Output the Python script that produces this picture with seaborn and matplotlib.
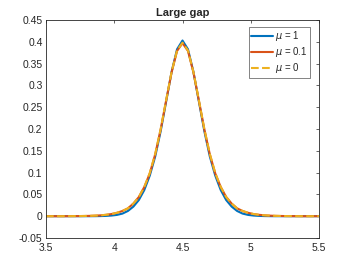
import numpy as np
import pandas as pd
import matplotlib
matplotlib.use("Agg")
import matplotlib.pyplot as plt
import seaborn as sns

# sample grid (step 0.04) and curves
x = np.round(np.arange(3.5, 5.5001, 0.04), 2)

# right half of each curve, offsets 0, 0.04, ..., 1.0 from the peak at 4.5
half_mu1 = [0.403, 0.383, 0.331, 0.263, 0.195, 0.137, 0.093, 0.060, 0.037, 0.022,
            0.012, 0.006, 0.003, 0.0015, 0.0007, 0.0003, 0.0001, 0, 0, 0,
            0, 0, 0, 0, 0, 0]
half_mu01 = [0.397, 0.379, 0.330, 0.265, 0.199, 0.142, 0.098, 0.067, 0.044, 0.029,
             0.018, 0.012, 0.0078, 0.0050, 0.0032, 0.0020, 0.0013, 0.0008, 0.0005, 0.0003,
             0.0002, 0.0001, 0, 0, 0, 0]
half_mu0 = [0.398, 0.380, 0.331, 0.266, 0.200, 0.143, 0.099, 0.067, 0.044, 0.029,
            0.018, 0.012, 0.0078, 0.0050, 0.0032, 0.0020, 0.0013, 0.0008, 0.0005, 0.0003,
            0.0002, 0.0001, 0, 0, 0, 0]

labels = [r'$\mu$ = 1', r'$\mu$ = 0.1', r'$\mu$ = 0']
colors = ['#0072BD', '#D95319', '#EDB120']
styles = ['-', '-', '--']


def full(half):
    return half[:0:-1] + half


series = [full(half_mu1), full(half_mu01), full(half_mu0)]

sns.set_style("white")
plt.rcParams['font.family'] = ['Liberation Sans', 'DejaVu Sans']
plt.rcParams['mathtext.fontset'] = 'dejavusans'

fig = plt.figure(figsize=(3.52, 2.67), dpi=100)
ax = fig.add_axes([0.1307, 0.1086, 0.7756, 0.8164])

for y, lab, c, ls in zip(series, labels, colors, styles):
    df = pd.DataFrame({'x': x, 'y': y})
    sns.lineplot(data=df, x='x', y='y', ax=ax, color=c, linestyle=ls,
                 linewidth=1.5, label=lab)

ax.set_xlim(3.5, 5.5)
ax.set_ylim(-0.05, 0.45)
ax.set_xticks([3.5, 4, 4.5, 5, 5.5])
ax.set_xticklabels(['3.5', '4', '4.5', '5', '5.5'])
yt = [-0.05, 0, 0.05, 0.1, 0.15, 0.2, 0.25, 0.3, 0.35, 0.4, 0.45]
ax.set_yticks(yt)
ax.set_yticklabels(['-0.05', '0', '0.05', '0.1', '0.15', '0.2', '0.25',
                    '0.3', '0.35', '0.4', '0.45'])
ax.set_xlabel('')
ax.set_ylabel('')
ax.set_title('Large gap', fontsize=8, fontweight='bold', pad=3)

ax.tick_params(direction='in', length=2.5, width=0.5, labelsize=7.5,
               top=True, right=True, colors='#262626', pad=2.5)
ax.tick_params(axis='x', pad=3.5)
for s in ax.spines.values():
    s.set_color('#262626')
    s.set_linewidth(0.6)

leg = ax.legend(loc='upper right', bbox_to_anchor=(0.967, 0.968),
                borderaxespad=0, fontsize=7, handlelength=2.2,
                frameon=True, fancybox=False, labelspacing=0.2,
                borderpad=0.25, handletextpad=0.25)
leg.get_frame().set_edgecolor('#262626')
leg.get_frame().set_linewidth(0.5)

fig.savefig('out.png', dpi=100)
